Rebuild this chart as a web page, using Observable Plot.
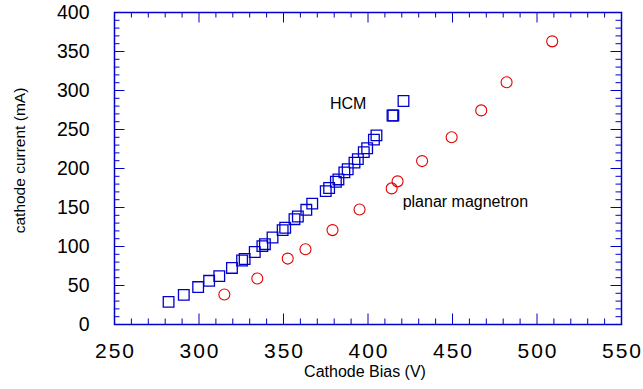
<!DOCTYPE html>
<html><head><meta charset="utf-8">
<script src="https://cdn.jsdelivr.net/npm/d3@7"></script>
<script src="https://cdn.jsdelivr.net/npm/@observablehq/plot@0.6"></script>
<style>
html,body{margin:0;padding:0;background:#fff;}
g[aria-label="x-axis tick label"] text{letter-spacing:2px;}
</style>
</head><body><div id="chart"></div>
<script>
// HCM series (squares)
const hcmBias = [282, 291, 299.5, 306, 312, 319.5, 325.5, 327, 333, 337.5, 339, 343.5, 349.5, 351, 356.5, 358.5, 363.5, 367, 375, 377, 381, 382.5, 386, 388, 392, 394, 397.5, 399.5, 403.5, 405, 414.5, 415, 421];
const hcmCurrent = [29, 38, 48, 56, 62, 72.5, 82, 84, 93, 100.5, 103, 111.5, 121, 124, 135, 138.5, 147, 155, 171, 175, 183, 186, 195, 199, 207.5, 212, 221, 226, 237, 242.5, 268, 268, 286.5];
// planar magnetron series (circles)
const pmBias = [315, 334.5, 352.5, 363, 379, 395, 414, 417.5, 432, 449.5, 467, 482, 509];
const pmCurrent = [38.5, 59, 84.5, 96.5, 121, 147.5, 174.5, 183.5, 209.5, 240, 274.5, 310.5, 363];
// axes
const xTickValues = [250, 300, 350, 400, 450, 500, 550];
const yTickValues = [0, 50, 100, 150, 200, 250, 300, 350, 400];
const xTitle = "Cathode Bias (V)";
const yTitle = "cathode current (mA)";
// annotations
const seriesLabels = ["HCM", "planar magnetron"];
const labelBias = [388.3, 420.5];
const labelCurrent = [282.4, 157.4];

const W = 643, H = 389, mT = 12, mB = 65, mL = 114, mR = 22;
const plotH = H - mT - mB, plotW = W - mL - mR;
const blue = "#0000cc", red = "#e00000";

const hcm = hcmBias.map((x, i) => ({x, y: hcmCurrent[i]}));
const pm = pmBias.map((x, i) => ({x, y: pmCurrent[i]}));
const labels = seriesLabels.map((t, i) => ({t, x: labelBias[i], y: labelCurrent[i]}));

const minorX = d3.range(250, 551, 10).filter(v => v % 50 !== 0);
const minorY = d3.range(0, 401, 10).filter(v => v % 50 !== 0);
const innerX = xTickValues.slice(1, -1);
const innerY = yTickValues.slice(1, -1);

const chart = Plot.plot({
  width: W, height: H,
  marginTop: mT, marginBottom: mB, marginLeft: mL, marginRight: mR,
  x: {domain: [250, 550]},
  y: {domain: [0, 400]},
  style: {fontFamily: "'Liberation Sans', Arial, sans-serif", fontSize: "20px", color: "black", background: "white"},
  marks: [
    // inward ticks
    Plot.tickX(minorX, {x: d => d, insetTop: plotH - 5.5, stroke: blue}),
    Plot.tickX(innerX, {x: d => d, insetTop: plotH - 10.5, stroke: blue}),
    Plot.tickX(minorX, {x: d => d, insetBottom: plotH - 5.5, stroke: blue}),
    Plot.tickX(innerX, {x: d => d, insetBottom: plotH - 10.5, stroke: blue}),
    Plot.tickY(minorY, {y: d => d, insetRight: plotW - 5.5, stroke: blue}),
    Plot.tickY(innerY, {y: d => d, insetRight: plotW - 10.5, stroke: blue}),
    Plot.tickY(minorY, {y: d => d, insetLeft: plotW - 5.5, stroke: blue}),
    Plot.tickY(innerY, {y: d => d, insetLeft: plotW - 10.5, stroke: blue}),
    Plot.frame({stroke: blue, strokeWidth: 1.5}),
    Plot.axisX({ticks: xTickValues, tickSize: 0, tickPadding: 19, fontSize: 21, dx: 1, label: null}),
    Plot.axisY({ticks: yTickValues, tickSize: 0, tickPadding: 25, fontSize: 19.5, label: null}),
    Plot.text([xTitle], {frameAnchor: "bottom", textAnchor: "middle", lineAnchor: "middle", dx: -3, dy: 47, fontSize: 16, fill: "black"}),
    Plot.text([yTitle], {frameAnchor: "left", textAnchor: "middle", lineAnchor: "middle", rotate: -90, dx: -94.5, dy: -8, fontSize: 15.5, fill: "black"}),
    Plot.dot(hcm, {x: "x", y: "y", symbol: "square", r: 6, stroke: blue, fill: "none", strokeWidth: 1.3}),
    Plot.dot(pm, {x: "x", y: "y", symbol: "circle", r: 5.5, stroke: red, fill: "none", strokeWidth: 1.1}),
    Plot.text(labels.slice(0, 1), {x: "x", y: "y", text: "t", textAnchor: "middle", fontSize: 16, fill: "black"}),
    Plot.text(labels.slice(1), {x: "x", y: "y", text: "t", textAnchor: "start", fontSize: 16, fill: "black"})
  ]
});
document.getElementById("chart").appendChild(chart);
</script>
</body></html>
